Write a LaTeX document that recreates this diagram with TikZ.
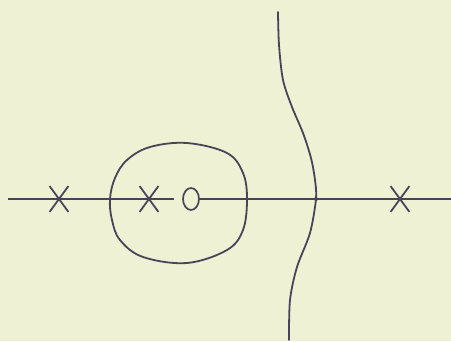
\documentclass[tikz,border=0pt]{standalone}
\usepackage{xcolor}
\usepackage{tikz}
\usetikzlibrary{shapes.misc,shapes.geometric}
\definecolor{ink}{HTML}{4A4458}
\definecolor{paper}{HTML}{EFF1D4}

\begin{document}
\begin{tikzpicture}[x=1pt,y=-1pt, axis/.style={draw=ink,line width=1.2pt}, locus/.style={draw=ink,line width=1.8pt,line cap=round}, pole/.style={cross out,draw=ink,line width=1.8pt,minimum width=17pt,minimum height=24pt,inner sep=0pt}, zero/.style={ellipse,draw=ink,line width=1.7pt,minimum width=16pt,minimum height=22pt,inner sep=0pt}]
\fill[paper] (0,0) rectangle (451,341);
\useasboundingbox (0,0) rectangle (451,341);
\node[pole] (p1) at (59,199) {};
\node[pole] (p2) at (149,199) {};
\node[zero] (z1) at (191,199) {};
\node[pole] (p3) at (400,199) {};
\coordinate (axl) at (8,199); \coordinate (gap) at (174,199); \coordinate (axr) at (451,199);
\draw[axis] (axl)--(gap); \draw[axis] (z1.east)--(axr);
% loop round the zero
\draw[locus] plot[smooth cycle,tension=0.6] coordinates {(110,199) (115,178) (127,160) (150,147) (187,143) (227,153) (243,173) (247,199) (243,230) (227,250) (187,263) (143,257) (120,240) (112,220)};
% branch that crosses the axis
\coordinate (top) at (278,12); \coordinate (cross) at (316,199); \coordinate (bot) at (289,340);
\draw[locus] plot[smooth,tension=0.5] coordinates {(top) (279,45) (283,80) (292,107) (303,133) (311,158) (315,180) (cross) (310,233) (297,267) (290,300) (bot)};
\fill[ink] (cross) circle (2pt);
\end{tikzpicture}
\end{document}
